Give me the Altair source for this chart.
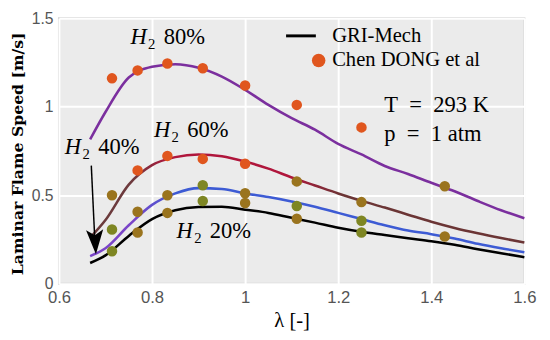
import altair as alt
import pandas as pd

# ---- GRI-Mech curves (laminar flame speed vs lambda) ----
lam_curve = [0.667, 0.70, 0.75, 0.80, 0.85, 0.90, 0.95, 1.00, 1.05, 1.10,
             1.15, 1.20, 1.25, 1.30, 1.35, 1.40, 1.45, 1.50, 1.55, 1.60]
sl_80 = [0.815, 0.97, 1.165, 1.225, 1.24, 1.22, 1.17, 1.095, 1.01, 0.935,
         0.87, 0.79, 0.73, 0.665, 0.62, 0.57, 0.522, 0.467, 0.415, 0.37]
sl_60 = [0.26, 0.36, 0.56, 0.67, 0.715, 0.73, 0.72, 0.69, 0.65, 0.60,
         0.555, 0.51, 0.468, 0.43, 0.39, 0.35, 0.315, 0.285, 0.258, 0.233]
sl_40 = [0.156, 0.20, 0.33, 0.445, 0.51, 0.54, 0.535, 0.51, 0.49, 0.465,
         0.435, 0.40, 0.365, 0.33, 0.30, 0.28, 0.255, 0.225, 0.20, 0.178]
sl_20 = [0.117, 0.16, 0.27, 0.365, 0.415, 0.433, 0.435, 0.418, 0.40, 0.372,
         0.345, 0.316, 0.293, 0.275, 0.257, 0.24, 0.22, 0.195, 0.172, 0.15]

# ---- Experimental data (Chen DONG et al) ----
lam_exp = [0.714, 0.769, 0.833, 0.909, 1.0, 1.111, 1.25, 1.429]
exp_80 = [1.16, 1.205, 1.244, 1.217, 1.12, 1.01, 0.883, 0.55]
exp_60 = [0.50, 0.64, 0.722, 0.705, 0.678, 0.578, 0.461, None]
exp_40 = [0.306, 0.406, 0.50, 0.556, 0.511, 0.439, 0.356, 0.267]
exp_20 = [0.183, 0.289, 0.40, 0.467, 0.456, 0.367, 0.289, None]
tone_80 = ["o", "o", "o", "o", "o", "o", "o", "b"]
tone_60 = ["b", "o", "o", "o", "o", "b", "b", None]
tone_40 = ["g", "b", "b", "g", "b", "g", "g", "b"]
tone_20 = ["g", "b", "b", "g", "b", "b", "g", None]

# ---- Annotations ----
h2_pct = ["80%", "60%", "40%", "20%"]
h2_lam = [0.7537, 0.804, 0.6126, 0.8526]
h2_val = [1.392, 0.869, 0.769, 0.297]

cond_text = ["T\u2002=\u2002293 K", "p\u2002=\u20021 atm"]
cond_lam = [1.299, 1.299]
cond_val = [1.011, 0.844]

legend_text = ["GRI-Mech", "Chen DONG et al"]
legend_lam = [1.187, 1.187]
legend_val = [1.40, 1.261]

x_ticks = [0.6, 0.8, 1.0, 1.2, 1.4, 1.6]
y_ticks = [0.0, 0.5, 1.0, 1.5]

SERIF = "Liberation Serif"
xs = alt.Scale(domain=[0.6, 1.6], nice=False, zero=False)
ys = alt.Scale(domain=[0, 1.5], nice=False)

X = alt.X("lam:Q", scale=xs,
          axis=alt.Axis(values=x_ticks, format="~g", title="λ [-]",
                        titleFont=SERIF, titleFontSize=21, titleFontWeight="normal",
                        titleColor="black", titlePadding=5, labelFontSize=17))
Y = alt.Y("v:Q", scale=ys,
          axis=alt.Axis(values=y_ticks, format="~g", title="Laminar Flame Speed [m/s]",
                        titleFont="DejaVu Serif", titleFontSize=16, titleFontWeight="bold",
                        titleColor="black", titleX=-42, titleY=138,
                        titleAlign="center", titleBaseline="middle",
                        labelFontSize=16))


def curve(vals):
    return pd.DataFrame({"lam": lam_curve, "v": vals})


def grad(stops):
    return alt.Gradient(gradient="linear", x1=0, x2=1, y1=0, y2=0,
                        stops=[alt.GradientStop(color=c, offset=o) for o, c in stops])


line80 = alt.Chart(curve(sl_80)).mark_line(color="#7B2F9E", strokeWidth=2.6,
                                           interpolate="monotone").encode(x=X, y=Y)
line60 = alt.Chart(curve(sl_60)).mark_line(
    stroke=grad([(0, "#6a3a3a"), (0.1, "#6e3a3e"), (0.18, "#b0163c"),
                 (0.46, "#b0163c"), (0.58, "#6b3535"), (1, "#6b3535")]),
    strokeWidth=2.6, interpolate="monotone").encode(x=X, y=Y)
line40 = alt.Chart(curve(sl_40)).mark_line(
    stroke=grad([(0, "#7a45c8"), (0.1, "#7a45c8"), (0.2, "#3d5bd4"), (1, "#3d5bd4")]),
    strokeWidth=2.6, interpolate="monotone").encode(x=X, y=Y)
line20 = alt.Chart(curve(sl_20)).mark_line(color="black", strokeWidth=2.6,
                                           interpolate="monotone").encode(x=X, y=Y)

rows = []
for vals, tones in [(exp_80, tone_80), (exp_60, tone_60), (exp_40, tone_40), (exp_20, tone_20)]:
    for l, v, t in zip(lam_exp, vals, tones):
        if v is not None:
            rows.append({"lam": l, "v": v, "tone": t})
exp_df = pd.DataFrame(rows)

points = alt.Chart(exp_df).mark_circle(size=115, opacity=1).encode(
    x=X, y=Y,
    color=alt.Color("tone:N", legend=None,
                    scale=alt.Scale(domain=["o", "b", "g"],
                                    range=["#E0561E", "#9A741E", "#7E8623"])))

# H2 labels: italic H, subscript 2, percentage
h2_df = pd.DataFrame({"lam": h2_lam, "v": h2_val, "pct": h2_pct})
h_txt = alt.Chart(h2_df).mark_text(font=SERIF, fontSize=23, fontStyle="italic",
                                   align="left", baseline="middle").encode(
    x=X, y=Y, text=alt.value("H"))
sub_txt = alt.Chart(h2_df).mark_text(font=SERIF, fontSize=15, align="left",
                                     baseline="middle", dx=18, dy=7).encode(
    x=X, y=Y, text=alt.value("2"))
pct_txt = alt.Chart(h2_df).mark_text(font=SERIF, fontSize=23, align="left",
                                     baseline="middle", dx=34).encode(
    x=X, y=Y, text="pct:N")

cond_df = pd.DataFrame({"lam": cond_lam, "v": cond_val, "t": cond_text})
cond = alt.Chart(cond_df).mark_text(font=SERIF, fontSize=23, align="left",
                                    baseline="middle").encode(x=X, y=Y, text="t:N")

# legend drawn in data space
leg_df = pd.DataFrame({"lam": legend_lam, "v": legend_val, "t": legend_text})
leg_txt = alt.Chart(leg_df).mark_text(font=SERIF, fontSize=21, align="left",
                                      baseline="middle").encode(x=X, y=Y, text="t:N")
leg_line = alt.Chart(pd.DataFrame({"lam": [1.088], "lam2": [1.152], "v": [1.40]})).mark_rule(
    color="black", strokeWidth=3).encode(x=X, x2="lam2:Q", y=Y)
leg_dot = alt.Chart(pd.DataFrame({"lam": [1.158], "v": [1.261]})).mark_circle(
    size=190, color="#E0561E", opacity=1).encode(x=X, y=Y)

# arrow pointing to the H2 40% curve
arrow_line = alt.Chart(pd.DataFrame({"lam": [0.6695], "lam2": [0.677],
                                     "v": [0.667], "v2": [0.25]})).mark_rule(
    color="black", strokeWidth=1.5).encode(x=X, x2="lam2:Q", y=Y, y2="v2:Q")
arrow_head = alt.Chart(pd.DataFrame({"lam": [0.678], "v": [0.236]})).mark_point(
    shape="M0,1 L-0.7,-1 L0,-0.55 L0.7,-1 Z", filled=True, size=625,
    color="black", opacity=1, angle=357).encode(x=X, y=Y)

chart = alt.layer(
    line80, line60, line40, line20, points,
    h_txt, sub_txt, pct_txt, cond, leg_line, leg_dot, leg_txt,
    arrow_line, arrow_head
).properties(
    width=475, height=271,
    autosize=alt.AutoSizeParams(type="none"),
    padding={"left": 52, "top": 7, "right": 18, "bottom": 50},
).configure_view(
    fill="#EBEBEB", stroke="#D4D4D4", strokeWidth=2
).configure_axis(
    grid=True, gridColor="white", gridWidth=2, domain=False, ticks=False,
    labelFont="Liberation Sans", labelColor="#555555",
    labelPadding=6, labelFlush=False
)

chart.save("out.html", embed_options={"renderer": "svg", "actions": False})
